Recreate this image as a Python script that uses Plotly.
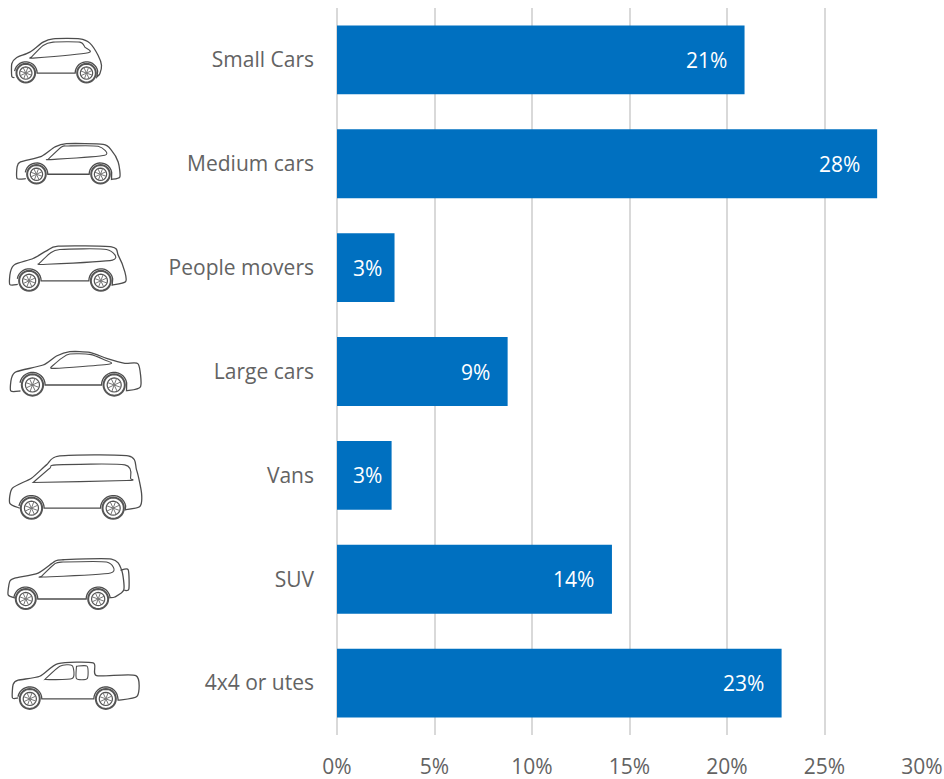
import math
import plotly.graph_objects as go

categories = ["Small Cars", "Medium cars", "People movers", "Large cars", "Vans", "SUV", "4x4 or utes"]
values = [20.9, 27.7, 2.95, 8.75, 2.8, 14.1, 22.8]
labels = ["21%", "28%", "3%", "9%", "3%", "14%", "23%"]
x_ticks = [0, 5, 10, 15, 20, 25, 30]
x_tick_labels = ["0%", "5%", "10%", "15%", "20%", "25%", "30%"]

W, H = 944, 779
L, R, T, B = 337, 921.6, 7.5, 735.5
FONT = "Open Sans"
GREY = "#636363"
BLUE = "#0070C0"
GRID = "#D9D9D9"

# decorative car icons, traced in crop-of-picture units (3x), each with its crop's y-offset
cars = [
    dict(dy=20, wheels=[(78, 158, 28), (260, 158, 28)],
         upper=[(44, 172), (36, 168), (36, 130), (50, 112), (90, 95), (130, 65), (160, 55), (240, 55), (270, 68), (295, 105), (305, 135), (300, 160), (291, 170)],
         windows=[[(95, 110), (130, 75), (160, 65), (240, 65), (255, 80), (265, 97), (100, 113)]]),
    dict(dy=20, wheels=[(110, 462, 28), (302, 462, 28)],
         upper=[(78, 475), (52, 475), (52, 440), (62, 425), (125, 408), (165, 380), (200, 370), (310, 372), (335, 390), (355, 425), (360, 470), (335, 477)],
         windows=[[(145, 417), (185, 380), (205, 377), (295, 378), (315, 405), (150, 418)]]),
    dict(dy=230, wheels=[(88, 152, 30), (303, 152, 30)],
         upper=[(54, 163), (30, 163), (32, 125), (45, 103), (100, 85), (140, 62), (175, 48), (335, 50), (355, 75), (375, 125), (377, 155), (337, 165)],
         windows=[[(118, 100), (150, 70), (180, 58), (320, 58), (338, 90), (130, 103)]]),
    dict(dy=230, wheels=[(98, 465, 32), (343, 465, 32)],
         upper=[(62, 483), (33, 483), (35, 445), (50, 425), (130, 405), (170, 378), (210, 365), (270, 367), (320, 385), (375, 400), (415, 402), (422, 470), (380, 482)],
         windows=[[(155, 410), (185, 385), (210, 372), (270, 373), (310, 388), (330, 402), (165, 415)]]),
    dict(dy=230, wheels=[(95, 835, 32), (340, 835, 32)],
         upper=[(60, 835), (30, 820), (38, 775), (95, 745), (140, 705), (180, 678), (385, 678), (410, 720), (425, 790), (420, 830), (376, 840)],
         windows=[[(100, 758), (150, 715), (170, 705), (375, 705), (392, 745), (380, 752)]]),
    dict(dy=540, wheels=[(78, 178, 30), (295, 178, 30)],
         upper=[(46, 175), (25, 165), (30, 125), (45, 115), (115, 100), (165, 65), (190, 60), (335, 58), (365, 90), (372, 150), (345, 172), (330, 174)],
         windows=[[(125, 110), (165, 72), (190, 67), (320, 67), (332, 100), (130, 112)]],
         extras=[[(362, 92), (385, 90), (387, 148), (373, 152)]]),
    dict(dy=540, wheels=[(90, 478, 30), (318, 478, 30)],
         upper=[(55, 475), (38, 475), (40, 435), (55, 422), (120, 410), (175, 372), (280, 370), (290, 408), (408, 408), (412, 470), (355, 482)],
         windows=[[(135, 420), (180, 380), (217, 378), (217, 417)], [(230, 380), (262, 380), (262, 417), (230, 417)]]),
]


def px(x, y, dy):
    return (x / 3 - L) / (R - L), (B - (y / 3 + dy)) / (B - T)


def fmt(p):
    return f"{p[0]:.5f},{p[1]:.5f}"


def smooth(points, dy, start=True):
    pts = [px(x, y, dy) for x, y in points]
    d = ("M" + fmt(pts[0])) if start else ("L" + fmt(pts[0]))
    for i in range(len(pts) - 1):
        p0 = pts[max(i - 1, 0)]
        p1, p2 = pts[i], pts[i + 1]
        p3 = pts[min(i + 2, len(pts) - 1)]
        k = 0.12
        c1 = (p1[0] + (p2[0] - p0[0]) * k, p1[1] + (p2[1] - p0[1]) * k)
        c2 = (p2[0] - (p3[0] - p1[0]) * k, p2[1] - (p3[1] - p1[1]) * k)
        d += f"C{fmt(c1)} {fmt(c2)} {fmt(p2)}"
    return d


def arc(cx, cy, r, a0, a1, dy, n=14):
    out = ""
    for i in range(n + 1):
        a = math.radians(a0 + (a1 - a0) * i / n)
        out += "L" + fmt(px(cx + r * math.cos(a), cy - r * math.sin(a), dy))
    return out


def line_shape(path, color="#4d4d4d", width=1.3):
    return dict(type="path", path=path, xref="paper", yref="paper", layer="above",
                line=dict(color=color, width=width), fillcolor="rgba(0,0,0,0)")


shapes = []
for car in cars:
    dy = car["dy"]
    front, rear = car["wheels"]
    body = smooth(car["upper"], dy)
    body += arc(rear[0], rear[1], rear[2] + 6, 10, 180, dy)
    body += arc(front[0], front[1], front[2] + 6, 0, 170, dy)
    shapes.append(line_shape(body))
    for win in car["windows"]:
        shapes.append(line_shape(smooth(win + [win[0]], dy) + "Z", width=1.1))
    for ex in car.get("extras", []):
        shapes.append(line_shape(smooth(ex, dy)))
    for cx, cy, r in car["wheels"]:
        shapes.append(line_shape("M" + arc(cx, cy, r, 0, 360, dy, 28)[1:] + "Z", color="#555555", width=2.0))
        shapes.append(line_shape("M" + arc(cx, cy, r * 0.66, 0, 360, dy, 20)[1:] + "Z", color="#555555", width=1.2))
        spokes = ""
        for a in range(0, 180, 45):
            ra = math.radians(a + 20)
            p = px(cx + r * 0.66 * math.cos(ra), cy + r * 0.66 * math.sin(ra), dy)
            q = px(cx - r * 0.66 * math.cos(ra), cy - r * 0.66 * math.sin(ra), dy)
            spokes += "M" + fmt(p) + "L" + fmt(q)
        shapes.append(line_shape(spokes, color="#777777", width=1.0))

fig = go.Figure(go.Bar(
    y=categories, x=values, orientation="h", marker=dict(color=BLUE, line=dict(width=0)),
    width=0.663, hoverinfo="skip", showlegend=False,
))

annotations = [
    dict(x=max(v - 0.8, 2.41), y=c, xref="x", yref="y", text=t, showarrow=False,
         xanchor="right", yanchor="middle", font=dict(family=FONT, size=21, color="white"))
    for c, v, t in zip(categories, values, labels)
]

fig.update_layout(
    width=W, height=H, margin=dict(l=L, r=W - R, t=T, b=H - B, autoexpand=False),
    paper_bgcolor="white", plot_bgcolor="white", shapes=shapes, annotations=annotations,
    font=dict(family=FONT, size=21, color=GREY),
    xaxis=dict(range=[0, 30], tickvals=x_ticks, ticktext=x_tick_labels, showgrid=True, gridcolor=GRID,
               gridwidth=2, zeroline=True, zerolinecolor=GRID, zerolinewidth=2, showline=False,
               ticks="", ticklabelstandoff=17, tickfont=dict(family=FONT, size=21, color=GREY)),
    yaxis=dict(autorange="reversed", showgrid=False, zeroline=False, showline=False, ticks="",
               ticklabelstandoff=22, tickfont=dict(family=FONT, size=21, color=GREY)),
)
fig.write_html("out.html", config=dict(displayModeBar=False),
               post_script="document.body.style.margin='0';document.documentElement.style.overflow='hidden';")
